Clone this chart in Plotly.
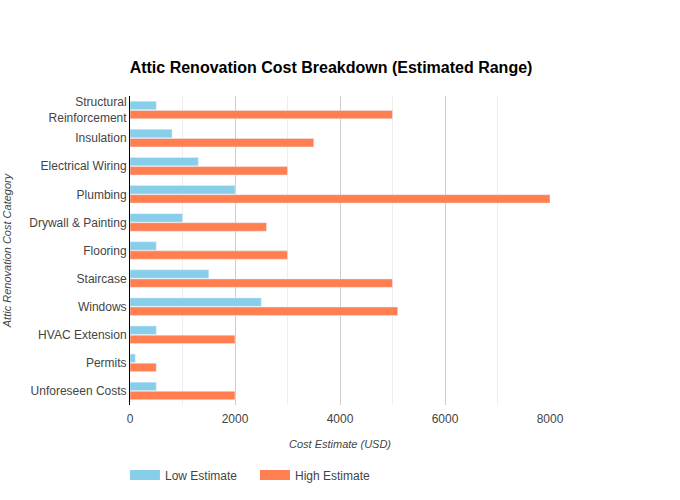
import plotly.graph_objects as go

categories = ["Structural<br>Reinforcement", "Insulation", "Electrical Wiring", "Plumbing",
              "Drywall & Painting", "Flooring", "Staircase", "Windows",
              "HVAC Extension", "Permits", "Unforeseen Costs"]
low_estimate = [500, 800, 1300, 2000, 1000, 500, 1500, 2500, 500, 100, 500]
high_estimate = [5000, 3500, 3000, 8000, 2600, 3000, 5000, 5100, 2000, 500, 2000]
series_names = ["Low Estimate", "High Estimate"]
series_colors = ["#87CEEB", "#FF7F50"]

fig = go.Figure()
for name, vals, col in zip(series_names, [low_estimate, high_estimate], series_colors):
    fig.add_trace(go.Bar(y=categories, x=vals, orientation="h", name=name,
                         marker_color=col, legendgroup=name, showlegend=False))
# legend swatches drawn as wide rectangles
for name, col in zip(series_names, series_colors):
    fig.add_trace(go.Scatter(x=[None], y=[None], mode="lines", name=name,
                             line=dict(color=col, width=13), legendgroup=name))

fig.update_layout(
    width=680, height=500,
    paper_bgcolor="white", plot_bgcolor="white",
    font=dict(family="Arial, Liberation Sans, sans-serif", size=12, color="#444"),
    title=dict(text="<b>Attic Renovation Cost Breakdown (Estimated Range)</b>",
               x=0.4868, xanchor="center", y=0.865, yanchor="middle",
               font=dict(size=16, color="black")),
    margin=dict(l=130, r=130, t=96, b=95),
    barmode="group", bargap=0.35, bargroupgap=0.08,
    legend=dict(orientation="h", x=-0.012, xanchor="left", yref="container",
                y=0.05, yanchor="middle", entrywidth=85, entrywidthmode="pixels",
                font=dict(size=12)),
    xaxis=dict(range=[0, 8000], dtick=2000, showgrid=True, gridcolor="#cccccc",
               minor=dict(dtick=1000, showgrid=True, gridcolor="#eeeeee"),
               zeroline=False, showline=False, automargin=False,
               ticks="outside", ticklen=3, tickcolor="rgba(0,0,0,0)",
               title=dict(text="<i>Cost Estimate (USD)</i>", font=dict(size=11), standoff=14)),
    yaxis=dict(autorange="reversed", showline=True, linecolor="black", linewidth=1,
               showgrid=False, ticks="", automargin=False,
               title=dict(text="<i>Attic Renovation Cost Category</i>", font=dict(size=11))),
)

fig.write_html("out.html")
